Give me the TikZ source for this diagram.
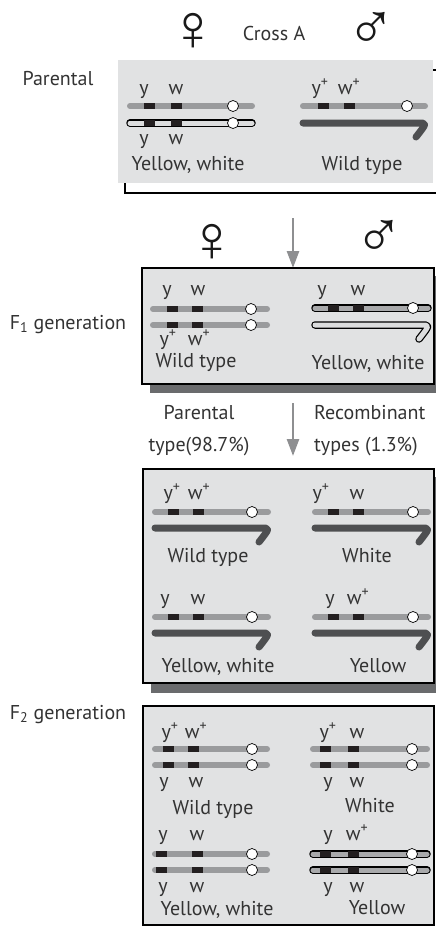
\documentclass[tikz,border=0pt]{standalone}
\usepackage{fontspec}
\usetikzlibrary{arrows.meta}
\setmainfont{PT Sans}
\newfontfamily\gendersym{Liberation Sans}
\definecolor{panelgray}{HTML}{E1E2E3}
\definecolor{shadowgray}{HTML}{6A6B6D}
\definecolor{bargray}{HTML}{9A9B9D}
\definecolor{midfill}{HTML}{A8A9AB}
\definecolor{lightfill}{HTML}{DCDDDE}
\definecolor{hookgray}{HTML}{4E4F51}
\definecolor{arrowgray}{HTML}{8E8F91}
\definecolor{geneblack}{HTML}{231F20}
\definecolor{inkgray}{HTML}{333333}

% chromosome pieces: plain bar, outlined bar, gene blocks with centromere, Y hook
\newcommand\barplain[3]{\draw[chrbar] (#1,#3) -- (#2,#3);}
\newcommand\barlined[4]{%
  \draw[chrline] (#1,#3) -- (#2,#3);
  \draw[line width=5pt,line cap=round,#4] (#1,#3) -- (#2,#3);}
\newcommand\genes[4]{%
  \fill[geneblack] (#2-5.5,#1-3) rectangle (#2+5.5,#1+3);
  \fill[geneblack] (#3-5.5,#1-3) rectangle (#3+5.5,#1+3);
  \draw[fill=white,line width=0.7pt] (#4,#1) circle (5.5pt);}
\newcommand\hookpath[3]{(#1,#3) -- (#2-7,#3) .. controls (#2+2,#3) .. (#2-9,#3+14)}
\newcommand\yhook[3]{\draw[hookstroke] \hookpath{#1}{#2}{#3};}
\newcommand\yhooklined[3]{%
  \draw[line width=7.5pt,line cap=round,line join=round] \hookpath{#1}{#2}{#3};
  \draw[line width=5pt,line cap=round,line join=round,lightfill] \hookpath{#1}{#2}{#3};}

\begin{document}
\begin{tikzpicture}[x=1pt,y=-1pt,
  txt/.style={font=\fontsize{20}{23}\selectfont,inner sep=0pt,text=inkgray,
    text height=14pt,text depth=4pt},
  two/.style={font=\fontsize{20}{32}\selectfont,inner sep=0pt,text=inkgray},
  gl/.style={font=\fontsize{20}{23}\selectfont,inner sep=0pt,text=inkgray,
    text height=10pt,text depth=4pt},
  sym/.style={font=\gendersym\fontsize{66}{66}\selectfont,inner sep=0pt,text=black!90},
  chrbar/.style={line width=6pt,line cap=round,bargray},
  chrline/.style={line width=7.5pt,line cap=round,black},
  hookstroke/.style={line width=7pt,line cap=round,line join=round,hookgray},
  panel/.style={fill=panelgray,draw=black,line width=2.5pt},
  flow/.style={draw=arrowgray,line width=2.6pt,-{Triangle[length=17pt,width=12pt]}}]
\useasboundingbox (0,0) rectangle (436,929);
\fill[white] (0,0) rectangle (436,929);

% ---------- header ----------
\node[sym] (fem0) at (193,32) {♀};
\node[txt] (cross) at (274,35) {Cross A};
\node[sym] (male0) at (371,31) {♂};
\node[txt] (par) at (58,80) {Parental};

% ---------- parental panel ----------
\draw[line width=2pt] (125,175) -- (125,193) -- (440,193);
\draw[line width=2pt] (428,70) -- (440,70);
\fill[panelgray] (118,60) rectangle (433,183);

\node[gl] (pa1) at (144,91) {y};
\node[gl] (pa2) at (176,91) {w};
\barplain{130}{252}{106}
\genes{106}{149}{176}{233}
\barlined{130}{252}{123}{lightfill}
\genes{123}{149}{176}{233}
\node[gl] (pa3) at (144,141) {y};
\node[gl] (pa4) at (176,141) {w};
\node[txt] (pa5) at (188,165) {Yellow, white};

\node[gl] (pb1) at (320,91) {y\textsuperscript{+}};
\node[gl] (pb2) at (349,91) {w\textsuperscript{+}};
\barplain{303}{425}{106}
\genes{106}{323}{349}{407}
\yhook{303}{425}{123}
\node[txt] (pb3) at (362,165) {Wild type};

% ---------- F1 ----------
\node[sym] (fem1) at (212,243) {♀};
\node[sym] (male1) at (379,239) {♂};
\coordinate (a1s) at (293,218);
\coordinate (a1e) at (293,268);
\draw[flow] (a1s) -- (a1e);
\node[txt] (f1lab) at (68,324) {F\textsubscript{1} generation};

\fill[shadowgray] (150,276) rectangle (441,393);
\draw[panel] (142,268) rectangle (434,384);

\node[gl] (fa1) at (167,292) {y};
\node[gl] (fa2) at (198,292) {w};
\barplain{153}{267}{309}
\genes{309}{172}{197}{251}
\barplain{153}{267}{325}
\genes{325}{172}{197}{251}
\node[gl] (fa3) at (168,342) {y\textsuperscript{+}};
\node[gl] (fa4) at (199,342) {w\textsuperscript{+}};
\node[txt] (fa5) at (196,362) {Wild type};

\node[gl] (fb1) at (322,292) {y};
\node[gl] (fb2) at (358,292) {w};
\barlined{315}{428}{308}{midfill}
\genes{308}{333}{358}{413}
\yhooklined{315}{428}{325}
\node[txt] (fb3) at (368,364) {Yellow, white};

% ---------- gametes ----------
\node[two,align=center] (ptype) at (199,431) {Parental\\type(98.7\%)};
\node[two,align=left,anchor=west] (rtype) at (314,431) {Recombinant\\types (1.3\%)};
\coordinate (a2s) at (293,403);
\coordinate (a2e) at (293,456);
\draw[flow] (a2s) -- (a2e);

\fill[shadowgray] (151,477) rectangle (441,693);
\draw[panel] (143,469) rectangle (434,683);

\node[gl] (ga1) at (172,496) {y\textsuperscript{+}};
\node[gl] (ga2) at (199,496) {w\textsuperscript{+}};
\barplain{155}{268}{512}
\genes{512}{173}{198}{252}
\yhook{155}{268}{528}
\node[txt] (ga3) at (208,557) {Wild type};

\node[gl] (gb1) at (321,496) {y\textsuperscript{+}};
\node[gl] (gb2) at (357,496) {w};
\barplain{315}{428}{512}
\genes{512}{333}{358}{413}
\yhook{315}{428}{528}
\node[txt] (gb3) at (367,557) {White};

\node[gl] (gc1) at (165,601) {y};
\node[gl] (gc2) at (198,601) {w};
\barplain{155}{268}{617}
\genes{617}{173}{198}{252}
\yhook{155}{268}{633}
\node[txt] (gc3) at (218,667) {Yellow, white};

\node[gl] (gd1) at (330,601) {y};
\node[gl] (gd2) at (358,601) {w\textsuperscript{+}};
\barplain{315}{428}{617}
\genes{617}{333}{358}{413}
\yhook{315}{428}{633}
\node[txt] (gd3) at (378,667) {Yellow};

% ---------- F2 ----------
\node[txt] (f2lab) at (68,714) {F\textsubscript{2} generation};
\draw[panel] (143,706) rectangle (434,925);

\node[gl] (ha1) at (170,735) {y\textsuperscript{+}};
\node[gl] (ha2) at (196,735) {w\textsuperscript{+}};
\barplain{155}{267}{749}
\genes{749}{168}{193}{252}
\barplain{155}{267}{765}
\genes{765}{168}{193}{252}
\node[gl] (ha3) at (164,784) {y};
\node[gl] (ha4) at (196,784) {w};
\node[txt] (ha5) at (213,809) {Wild type};

\node[gl] (hb1) at (328,735) {y\textsuperscript{+}};
\node[gl] (hb2) at (357,735) {w};
\barplain{313}{427}{749}
\genes{749}{325}{353}{412}
\barplain{313}{427}{765}
\genes{765}{325}{353}{412}
\node[gl] (hb3) at (328,784) {y};
\node[gl] (hb4) at (357,784) {w};
\node[txt] (hb5) at (370,807) {White};

\node[gl] (hc1) at (163,837) {y};
\node[gl] (hc2) at (197,837) {w};
\barplain{155}{267}{854}
\genes{854}{161}{197}{252}
\barplain{155}{267}{870}
\genes{870}{161}{197}{252}
\node[gl] (hc3) at (163,889) {y};
\node[gl] (hc4) at (197,889) {w};
\node[txt] (hc5) at (217,910) {Yellow, white};

\node[gl] (hd1) at (328,837) {y};
\node[gl] (hd2) at (357,837) {w\textsuperscript{+}};
\barlined{313}{427}{854}{midfill}
\genes{854}{325}{353}{412}
\barlined{313}{427}{870}{midfill}
\genes{870}{325}{353}{412}
\node[gl] (hd3) at (328,889) {y};
\node[gl] (hd4) at (357,889) {w};
\node[txt] (hd5) at (377,909) {Yellow};
\end{tikzpicture}
\end{document}
